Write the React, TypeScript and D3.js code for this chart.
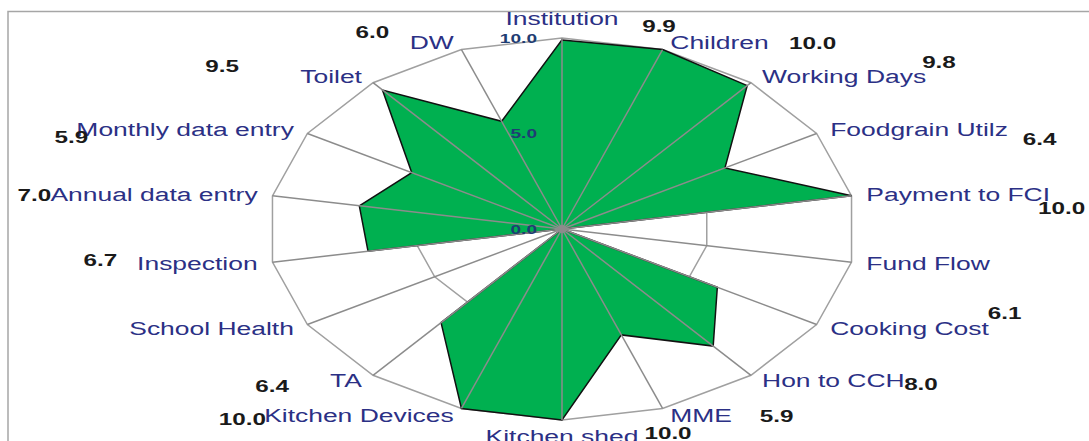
import React, { useEffect, useRef } from 'react';
import * as d3 from 'd3';

const categories = [
  'Institution', 'Children', 'Working Days', 'Foodgrain Utilz', 'Payment to FCI',
  'Fund Flow', 'Cooking Cost', 'Hon to CCH', 'MME', 'Kitchen shed',
  'Kitchen Devices', 'TA', 'School Health', 'Inspection', 'Annual data entry',
  'Monthly data entry', 'Toilet', 'DW',
];
const scores = [9.9, 10.0, 9.8, 6.4, 10.0, 0, 6.1, 8.0, 5.9, 10.0, 10.0, 6.4, 0, 6.7, 7.0, 5.9, 9.5, 6.0];
const valueLabels = ['9.9', '10.0', '9.8', '6.4', '10.0', '', '6.1', '8.0', '5.9', '10.0', '10.0', '6.4', '', '6.7', '7.0', '5.9', '9.5', '6.0'];
const ringTicks = [0, 5, 10];
const tickLabels = ['0.0', '5.0', '10.0'];

// where the excel-ish value labels ended up, relative to the axis end
const valueNudge: [number, number][] = [
  [97, -12], [150, -6], [188, -20], [223, 6], [210, 12], [0, 0], [188, -11], [170, 9], [114, 8],
  [106, 13], [-219, 11], [-101, 11], [0, 0], [-172, -2], [-238, -1], [-236, 4], [-151, -16], [-89, -17],
];

export default function App() {
  const svgRef = useRef<SVGSVGElement>(null);

  useEffect(() => {
    const width = 1089;
    const height = 441;
    const cx = 562;
    const cy = 229;
    const rx = 294;
    const ry = 191;
    const sx = 1.47; // text is stretched sideways like the rest of the chart

    const svg = d3.select(svgRef.current).attr('width', width).attr('height', height);
    svg.selectAll('*').remove();

    const r = d3.scaleLinear().domain([0, 10]).range([0, 1]);
    const angle = d3.scaleLinear().domain([0, categories.length]).range([0, 2 * Math.PI]);
    const px = (i: number, v: number) => cx + rx * r(v) * Math.sin(angle(i));
    const py = (i: number, v: number) => cy - ry * r(v) * Math.cos(angle(i));

    // frame of the chart area
    svg.append('path')
      .attr('d', `M8,${height} L8,11.5 L${width},11.5`)
      .attr('fill', 'none')
      .attr('stroke', '#a6a6a6')
      .attr('stroke-width', 1.5);

    const idx = d3.range(categories.length);
    const ringLine = d3.line<number>();

    ringTicks.filter((t) => t > 0).forEach((t) => {
      svg.append('path')
        .attr('d', ringLine(idx.map((i) => [px(i, t), py(i, t)]) as any) + 'Z')
        .attr('fill', 'none')
        .attr('stroke', '#a0a0a0')
        .attr('stroke-width', 1.5);
    });

    svg.append('path')
      .attr('d', ringLine(idx.map((i) => [px(i, scores[i]), py(i, scores[i])]) as any) + 'Z')
      .attr('fill', '#00b050')
      .attr('stroke', '#111')
      .attr('stroke-width', 1.5)
      .attr('stroke-linejoin', 'miter');

    svg.selectAll('.spoke')
      .data(idx)
      .enter()
      .append('line')
      .attr('class', 'spoke')
      .attr('x1', cx)
      .attr('y1', cy)
      .attr('x2', (i) => px(i, 10))
      .attr('y2', (i) => py(i, 10))
      .attr('stroke', '#8c8c8c')
      .attr('stroke-width', 1.5);

    svg.append('circle').attr('cx', cx).attr('cy', cy).attr('r', 4).attr('fill', '#8c8c8c');

    // tick labels along the first axis
    ringTicks.forEach((t, k) => {
      svg.append('text')
        .attr('transform', `translate(${cx - 25},${py(0, t)}) scale(${sx},1)`)
        .attr('text-anchor', 'end')
        .attr('dy', '0.35em')
        .attr('font-family', 'Liberation Sans, Arial, sans-serif')
        .attr('font-size', 13)
        .attr('font-weight', 'bold')
        .attr('fill', '#1f3d73')
        .text(tickLabels[k]);
    });

    // category labels
    idx.forEach((i) => {
      const a = angle(i);
      const s = Math.sin(a);
      const c = Math.cos(a);
      let x = px(i, 10);
      let y = py(i, 10);
      let anchor = 'middle';
      if (Math.abs(s) < 0.01) {
        y += c > 0 ? -19 : 17;
      } else {
        const gap = 4 + 11 * Math.abs(s);
        x += s > 0 ? gap : -gap;
        y += -7.5 * c;
        anchor = s > 0 ? 'start' : 'end';
      }
      svg.append('text')
        .attr('transform', `translate(${x},${y}) scale(${sx},1)`)
        .attr('text-anchor', anchor)
        .attr('dy', '0.35em')
        .attr('font-family', 'Liberation Sans, Arial, sans-serif')
        .attr('font-size', 18)
        .attr('fill', '#2b3085')
        .text(categories[i]);
    });

    // value labels
    idx.forEach((i) => {
      if (!valueLabels[i]) return;
      const [dx, dy] = valueNudge[i];
      svg.append('text')
        .attr('transform', `translate(${px(i, 10) + dx},${py(i, 10) + dy}) scale(${sx},1)`)
        .attr('text-anchor', 'middle')
        .attr('dy', '0.35em')
        .attr('font-family', 'Liberation Sans, Arial, sans-serif')
        .attr('font-size', 16.5)
        .attr('font-weight', 'bold')
        .attr('fill', '#1a1a1a')
        .text(valueLabels[i]);
    });
  }, []);

  return (
    <div style={{ position: 'absolute', left: 0, top: 0 }}>
      <svg ref={svgRef} style={{ display: 'block' }}></svg>
    </div>
  );
}
